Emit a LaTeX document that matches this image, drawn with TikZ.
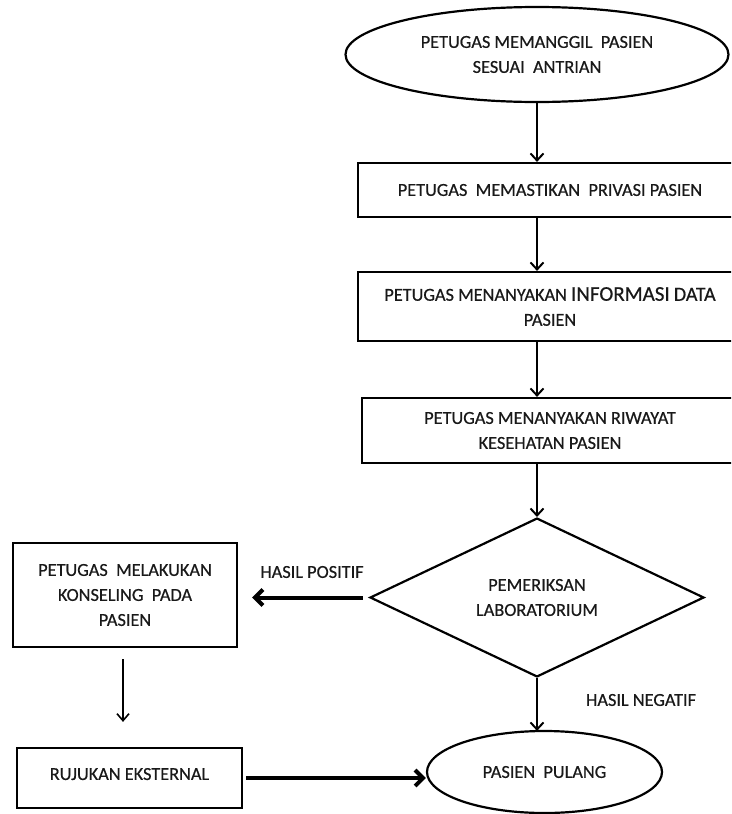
\documentclass[tikz,border=0pt]{standalone}
\usepackage{fontspec}
\setmainfont{Carlito}
\newfontfamily\diagfont{Carlito}[FakeBold=0.5]
\usetikzlibrary{shapes.geometric,arrows.meta,calc}
\begin{document}
\begin{tikzpicture}[x=1pt,y=-1pt,
  every node/.style={font=\diagfont\fontsize{18.3}{25}\selectfont, text=black!90},
  boxn/.style={draw=black, line width=2.2pt, rectangle, inner sep=0pt, align=center},
  ovaln/.style={draw=black, line width=2.2pt, ellipse, inner sep=0pt, align=center},
  decn/.style={draw=black, line width=2.2pt, diamond, inner sep=0pt, align=center},
  lbl/.style={inner sep=0pt},
  arr/.style={line width=2pt, -{Straight Barb[length=7pt,width=13pt]}},
  thinarr/.style={line width=1.6pt, -{Straight Barb[length=7pt,width=12pt]}},
  thickarr/.style={line width=4pt, -{Straight Barb[length=8pt,width=16pt]}}
]
\useasboundingbox (0,0) rectangle (731,814);
\clip (0,0) rectangle (731,814);
\fill[white] (0,0) rectangle (731,814);

\node[ovaln, minimum width=383pt, minimum height=95pt] (e1) at (537,54.5)
  {PETUGAS MEMANGGIL\ \ PASIEN\\SESUAI\ \ ANTRIAN};

\node[boxn, minimum width=384pt, minimum height=54pt] (b1) at (550,190)
  {PETUGAS\ \ MEMASTIKAN\ \ PRIVASI PASIEN};
\node[boxn, minimum width=384pt, minimum height=69pt] (b2) at (550,306.5)
  {PETUGAS MENANYAKAN {\fontsize{21}{25}\selectfont INFORMASI} {\fontsize{20}{25}\selectfont DATA}\\PASIEN};
\node[boxn, minimum width=376pt, minimum height=65pt] (b3) at (550,430.5)
  {PETUGAS MENANYAKAN RIWAYAT\\KESEHATAN PASIEN};

\node[decn, minimum width=334pt, minimum height=135pt] (d) at (537,597.5)
  {PEMERIKSAN\\LABORATORIUM};

\node[boxn, minimum width=224pt, minimum height=104pt] (k) at (125,595)
  {PETUGAS\ \ MELAKUKAN\\KONSELING\ \ PADA\\PASIEN};
\node[boxn, minimum width=225pt, minimum height=60pt, text depth=8pt] (r) at (129.5,778)
  {RUJUKAN EKSTERNAL};

\node[ovaln, minimum width=235pt, minimum height=82pt] (e2) at (544.5,772)
  {PASIEN\ \ PULANG};

\node[lbl] (lp) at (312,572) {HASIL POSITIF};
\node[lbl] (ln) at (641,700) {HASIL NEGATIF};

\coordinate (a0) at (537,0);
\draw[arr] (e1.south) -- (e1.south |- b1.north);
\draw[arr] (a0 |- b1.south) -- (a0 |- b2.north);
\draw[arr] (a0 |- b2.south) -- (a0 |- b3.north);
\draw[arr] (a0 |- b3.south) -- (d.north);
\draw[arr] (d.south) -- ($(d.south |- e2.north)+(0,1)$);
\draw[thickarr, shorten <=6pt, shorten >=14pt] (d.west) -- (d.west -| k.east);
\draw[thinarr, shorten <=11pt, shorten >=25pt] ([xshift=-2pt]k.south) -- ([xshift=-2pt]k.south |- r.north);
\draw[thickarr, shorten <=3pt] (r.east) -- (r.east -| e2.west);
\end{tikzpicture}
\end{document}
